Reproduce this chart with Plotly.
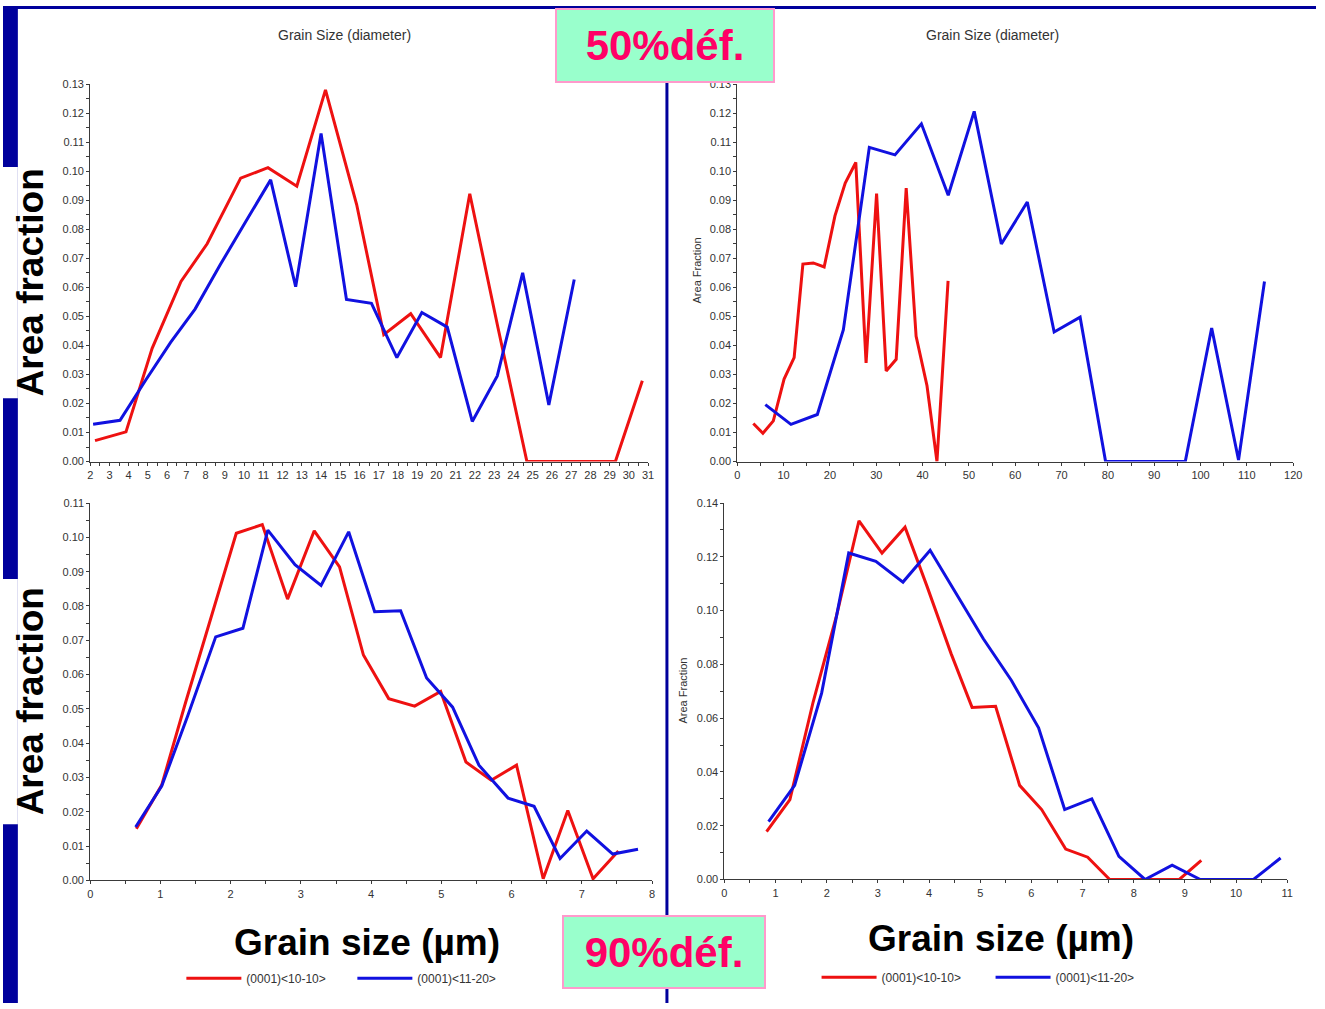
import plotly.graph_objects as go

# Grain-size distributions (area fraction vs grain diameter) for two
# orientation families, at 50% and 90% deformation.

# 50% deformation, left panel (grain size 2-31 um)
tl_red_x = [2.25, 3.86, 5.22, 6.72, 8.08, 9.82, 11.24, 12.74, 14.23, 15.85,
            17.26, 18.66, 20.21, 21.73, 23.2, 24.7, 26.2, 27.7, 29.3, 30.7]
tl_red_y = [0.0072, 0.0102, 0.039, 0.062, 0.075, 0.0976, 0.1012, 0.0948, 0.128, 0.0885,
            0.0437, 0.0509, 0.0358, 0.0922, 0.046, 0.0, 0.0, 0.0, 0.0, 0.0278]
tl_blue_x = [2.15, 3.55, 4.88, 6.18, 7.45, 8.78, 10.08, 11.38, 12.68, 14.0,
             15.32, 16.62, 17.94, 19.24, 20.56, 21.86, 23.16, 24.48, 25.84, 27.16]
tl_blue_y = [0.0128, 0.0142, 0.028, 0.041, 0.0525, 0.068, 0.0826, 0.097, 0.0602, 0.113,
             0.0558, 0.0545, 0.0358, 0.0513, 0.0463, 0.0138, 0.0295, 0.065, 0.0195, 0.0627]

# 50% deformation, right panel (grain size 0-120 um)
tr_red_x = [3.46, 5.53, 7.78, 10.1, 12.27, 14.16, 16.4, 18.75, 21.08, 23.3,
            25.58, 27.8, 30.07, 32.14, 34.3, 36.46, 38.6, 40.95, 43.1, 45.5]
tr_red_y = [0.0131, 0.0097, 0.014, 0.0284, 0.0358, 0.068, 0.0684, 0.067, 0.0846, 0.0959,
            0.103, 0.034, 0.0923, 0.0312, 0.0352, 0.0942, 0.0431, 0.0261, 0.0, 0.0622]
tr_blue_x = [6.05, 11.58, 17.28, 22.9, 28.5, 34.04, 39.74, 45.53, 51.14, 57.0,
             62.6, 68.4, 74.0, 79.5, 85.3, 90.9, 96.7, 102.4, 108.2, 113.8]
tr_blue_y = [0.0196, 0.0128, 0.0162, 0.0454, 0.1082, 0.1056, 0.1163, 0.0917, 0.1206, 0.0749,
             0.0894, 0.0446, 0.0497, 0.0, 0.0, 0.0, 0.0, 0.046, 0.0005, 0.062]

# 90% deformation, left panel (grain size 0-8 um)
bl_red_x = [0.657, 1.018, 1.36, 1.71, 2.08, 2.45, 2.81, 3.19, 3.55, 3.89,
            4.25, 4.62, 4.99, 5.35, 5.71, 6.07, 6.45, 6.80, 7.16, 7.52]
bl_red_y = [0.0151, 0.0278, 0.052, 0.076, 0.1012, 0.1037, 0.082, 0.1019, 0.0914, 0.0657,
            0.053, 0.0508, 0.0551, 0.0345, 0.0292, 0.0336, 0.0005, 0.0204, 0.0005, 0.0086]
bl_blue_x = [0.647, 1.018, 1.389, 1.787, 2.174, 2.529, 2.916, 3.287, 3.68, 4.05,
             4.42, 4.79, 5.16, 5.535, 5.95, 6.32, 6.69, 7.07, 7.44, 7.80]
bl_blue_y = [0.0156, 0.0275, 0.048, 0.071, 0.0735, 0.1021, 0.092, 0.086, 0.1016, 0.0783,
             0.0786, 0.059, 0.0505, 0.0336, 0.024, 0.0216, 0.0064, 0.0144, 0.0077, 0.0091]

# 90% deformation, right panel (grain size 0-11 um)
br_red_x = [0.824, 1.28, 1.734, 2.19, 2.63, 3.08, 3.53, 3.96, 4.43, 4.84,
            5.30, 5.77, 6.20, 6.67, 7.10, 7.53, 8.0, 8.43, 8.89, 9.32]
br_red_y = [0.0178, 0.0297, 0.066, 0.098, 0.1334, 0.1214, 0.131, 0.109, 0.084, 0.064,
            0.0644, 0.035, 0.026, 0.0113, 0.0083, 0.0, 0.0, 0.0, 0.0, 0.0071]
br_blue_x = [0.863, 1.373, 1.90, 2.43, 2.96, 3.49, 4.02, 4.55, 5.06, 5.61,
             6.14, 6.65, 7.18, 7.71, 8.22, 8.75, 9.30, 9.81, 10.34, 10.87]
br_blue_y = [0.0215, 0.035, 0.0693, 0.1214, 0.1183, 0.1106, 0.1224, 0.1058, 0.0895, 0.074,
             0.0564, 0.026, 0.030, 0.0086, 0.0, 0.0053, 0.0, 0.0, 0.0, 0.008]

series_names = ["(0001)&lt;10-10&gt;", "(0001)&lt;11-20&gt;"]
panel_title = "Grain Size (diameter)"
big_y_title = "Area fraction"
small_y_title = "Area Fraction"
big_x_title = "Grain size (µm)"
box_labels = ["50%déf.", "90%déf."]

W, H = 1325, 1009
NAVY = "#00009c"
RED = "#ee1111"
BLUE = "#1111e0"
AXC = "#3a3a3a"
FONT = "Liberation Sans, Arial, sans-serif"


def fx(px):
    return px / W


def fy(py):
    return 1 - py / H


# pixel box (left, right, bottom, top), x range / ticks, y range / ticks
panels = [
    dict(box=(88, 651, 461, 79), xr=[2, 31], xd=1, xm=0.5, yr=[0, 0.13], yd=0.01, ym=0.005,
         red=(tl_red_x, tl_red_y), blue=(tl_blue_x, tl_blue_y), legend=None),
    dict(box=(741, 1302, 461, 79), xr=[0, 120], xd=10, xm=5, yr=[0, 0.13], yd=0.01, ym=0.005,
         red=(tr_red_x, tr_red_y), blue=(tr_blue_x, tr_blue_y), legend=None),
    dict(box=(88, 655, 885, 503), xr=[0, 8], xd=1, xm=0.5, yr=[0, 0.11], yd=0.01, ym=0.005,
         red=(bl_red_x, bl_red_y), blue=(bl_blue_x, bl_blue_y), legend="legend"),
    dict(box=(728, 1296, 884, 503), xr=[0, 11], xd=1, xm=0.5, yr=[0, 0.14], yd=0.02, ym=0.01,
         red=(br_red_x, br_red_y), blue=(br_blue_x, br_blue_y), legend="legend2"),
]

fig = go.Figure()
layout_axes = {}
tickfont = dict(family=FONT, size=11, color="#333333")

for i, p in enumerate(panels, start=1):
    xa, ya = f"x{i}" if i > 1 else "x", f"y{i}" if i > 1 else "y"
    for (xs, ys), name, col in ((p["red"], series_names[0], RED),
                                (p["blue"], series_names[1], BLUE)):
        fig.add_trace(go.Scatter(
            x=xs, y=ys, mode="lines", name=name, xaxis=xa, yaxis=ya,
            line=dict(color=col, width=3),
            showlegend=p["legend"] is not None,
            legend=p["legend"] or "legend",
        ))
    l, r, b, t = p["box"]
    xkey = "xaxis" if i == 1 else f"xaxis{i}"
    ykey = "yaxis" if i == 1 else f"yaxis{i}"
    common = dict(showgrid=False, zeroline=False, showline=True, linecolor=AXC,
                  linewidth=1, tickcolor=AXC, tickwidth=1, ticklen=3, ticks="outside",
                  tickfont=tickfont)
    layout_axes[xkey] = dict(common, domain=[fx(l), fx(r)], range=p["xr"], anchor=ya,
                             tick0=0, dtick=p["xd"],
                             minor=dict(dtick=p["xm"], ticks="outside", ticklen=3,
                                        tickcolor=AXC))
    layout_axes[ykey] = dict(common, domain=[fy(b), fy(t)], range=p["yr"], anchor=xa,
                             tick0=0, dtick=p["yd"], tickformat=".2f",
                             minor=dict(dtick=p["ym"], ticks="outside", ticklen=3,
                                        tickcolor=AXC))
    # inward tick marks so the ticks cross the axis lines
    j = i + 4
    layout_axes[f"xaxis{j}"] = dict(overlaying=xa, anchor=ya, range=p["xr"], side="bottom",
                                    showgrid=False, zeroline=False, showline=False,
                                    showticklabels=False, ticks="inside", ticklen=3,
                                    tickcolor=AXC, tick0=0, dtick=p["xd"],
                                    minor=dict(dtick=p["xm"], ticks="inside", ticklen=3,
                                               tickcolor=AXC))
    layout_axes[f"yaxis{j}"] = dict(overlaying=ya, anchor=xa, range=p["yr"], side="left",
                                    showgrid=False, zeroline=False, showline=False,
                                    showticklabels=False, ticks="inside", ticklen=3,
                                    tickcolor=AXC, tick0=0, dtick=p["yd"],
                                    minor=dict(dtick=p["ym"], ticks="inside", ticklen=3,
                                               tickcolor=AXC))

shapes = [
    # navy frame strips
    dict(type="rect", xref="paper", yref="paper", x0=0, x1=fx(15), y0=0, y1=1,
         fillcolor=NAVY, line=dict(width=0), layer="below"),
    dict(type="rect", xref="paper", yref="paper", x0=0, x1=1, y0=fy(3), y1=1,
         fillcolor=NAVY, line=dict(width=0), layer="below"),
    # white backing behind the large y titles
    dict(type="rect", xref="paper", yref="paper", x0=0, x1=fx(15), y0=fy(397), y1=fy(163),
         fillcolor="white", line=dict(width=0), layer="below"),
    dict(type="rect", xref="paper", yref="paper", x0=0, x1=fx(15), y0=fy(828), y1=fy(580),
         fillcolor="white", line=dict(width=0), layer="below"),
    # vertical divider between the two columns
    dict(type="line", xref="paper", yref="paper", x0=fx(670), x1=fx(670), y0=0, y1=fy(3),
         line=dict(color=NAVY, width=3), layer="below"),
]


def ann(text, x, y, size, bold=False, angle=0, color="#000000", **kw):
    return dict(text=text, xref="paper", yref="paper", x=fx(x), y=fy(y),
                xanchor="center", yanchor="middle", showarrow=False, textangle=angle,
                font=dict(family=FONT, size=size, color=color,
                          weight="bold" if bold else "normal"), **kw)


annotations = [
    ann(panel_title, 345, 29, 14, color="#333333"),
    ann(panel_title, 999, 29, 14, color="#333333"),
    ann(big_y_title, 28, 280, 37, bold=True, angle=-90),
    ann(big_y_title, 28, 704, 37, bold=True, angle=-90),
    ann(small_y_title, 700, 268, 11, angle=-90, color="#333333"),
    ann(small_y_title, 686, 693, 11, angle=-90, color="#333333"),
    ann(big_x_title, 367, 948, 37, bold=True),
    ann(big_x_title, 1007, 944, 37, bold=True),
    ann(box_labels[0], 668, 39.5, 42, bold=True, color="#ff0066",
        bgcolor="#99ffcc", bordercolor="#ff99cc", borderwidth=2, borderpad=0,
        width=216, height=71),
    ann(box_labels[1], 667, 957, 42, bold=True, color="#ff0066",
        bgcolor="#99ffcc", bordercolor="#ff99cc", borderwidth=2, borderpad=0,
        width=200, height=70),
]

legend_style = dict(orientation="h", xanchor="left", yanchor="middle",
                    font=dict(family=FONT, size=12, color="#333333"),
                    bgcolor="rgba(0,0,0,0)", itemwidth=55, entrywidthmode="pixels",
                    itemclick=False)

fig.update_layout(
    width=W, height=H, margin=dict(l=0, r=0, t=0, b=0, pad=0),
    paper_bgcolor="white", plot_bgcolor="rgba(0,0,0,0)",
    shapes=shapes, annotations=annotations,
    legend=dict(legend_style, x=fx(180), y=fy(984), entrywidth=101),
    legend2=dict(legend_style, x=fx(821), y=fy(983), entrywidth=104),
    **layout_axes,
)

# the page body gets no default margin so the figure fills the window
fig.write_html("out.html", post_script="document.body.style.margin = '0px';")
